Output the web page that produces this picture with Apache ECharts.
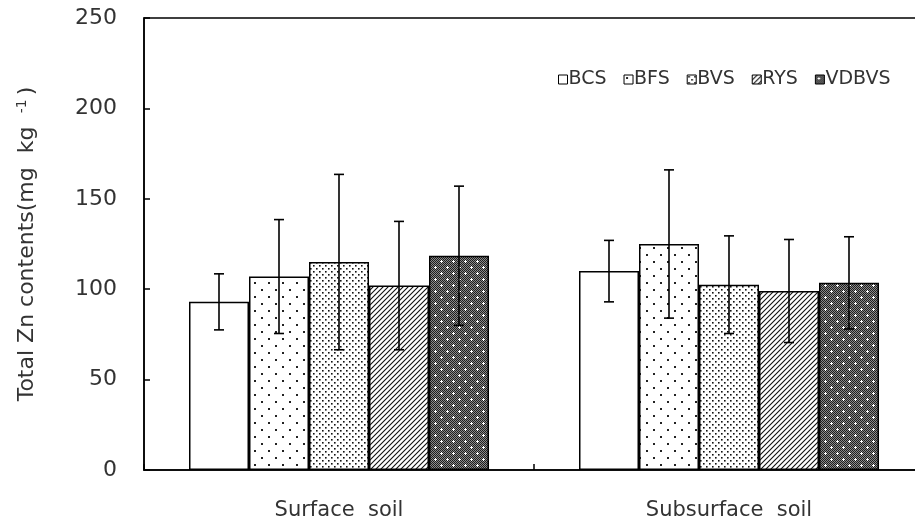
<!DOCTYPE html>
<html>
<head>
<meta charset="utf-8">
<script src="https://cdn.jsdelivr.net/npm/echarts@6/dist/echarts.min.js"></script>
<style>
  html, body { margin: 0; padding: 0; background: #fff; }
  #chart { width: 915px; height: 525px; }
</style>
</head>
<body>
<div id="chart"></div>
<script>
// Soil layers on the category axis
const categories = ['Surface  soil', 'Subsurface  soil'];
// Treatments, in legend order
const treatments = ['BCS', 'BFS', 'BVS', 'RYS', 'VDBVS'];
// Mean total Zn (mg kg-1) per treatment: [surface, subsurface]
const meanBCS = [93, 110];
const meanBFS = [107, 125];
const meanBVS = [115, 102.5];
const meanRYS = [102, 99];
const meanVDBVS = [118.5, 103.5];
// Standard deviations: [surface, subsurface]
const sdBCS = [15.5, 17];
const sdBFS = [31.5, 41];
const sdBVS = [48.5, 27];
const sdRYS = [35.5, 28.5];
const sdVDBVS = [38.5, 25.5];
// Value axis ticks
const yTicks = [0, 50, 100, 150, 200, 250];

const means = [meanBCS, meanBFS, meanBVS, meanRYS, meanVDBVS];
const sds = [sdBCS, sdBFS, sdBVS, sdRYS, sdVDBVS];

const FONT = 'DejaVu Sans';
const INK = '#333333';
const BAR_W = 60;

// ---- monochrome fill patterns ----
function makeTile(w, h, draw) {
  const c = document.createElement('canvas');
  c.width = w; c.height = h;
  const g = c.getContext('2d');
  draw(g, w, h);
  return c;
}
function dot(g, x, y, s, col) { g.fillStyle = col; g.fillRect(x, y, s, s); }

const patSparseDots = makeTile(14, 14, (g, w, h) => {
  g.fillStyle = '#fff'; g.fillRect(0, 0, w, h);
  dot(g, 2, 2, 2, '#222');
  dot(g, 9, 9, 2, '#222');
});
const patDenseDots = makeTile(6, 6, (g, w, h) => {
  g.fillStyle = '#fff'; g.fillRect(0, 0, w, h);
  dot(g, 1, 1, 1.6, '#111');
  dot(g, 4, 4, 1.6, '#111');
});
const patHatch = makeTile(5, 5, (g, w, h) => {
  g.fillStyle = '#fff'; g.fillRect(0, 0, w, h);
  g.strokeStyle = '#111'; g.lineWidth = 1.1;
  g.beginPath();
  g.moveTo(-1, h + 1); g.lineTo(w + 1, -1);
  g.moveTo(-1, 1); g.lineTo(1, -1);
  g.moveTo(w - 1, h + 1); g.lineTo(w + 1, h - 1);
  g.stroke();
});
const patDark = makeTile(12, 12, (g, w, h) => {
  for (let y = 0; y < h; y++) {
    for (let x = 0; x < w; x++) {
      g.fillStyle = ((x + y) % 2 === 0) ? '#1e1e1e' : '#8a8a8a';
      g.fillRect(x, y, 1, 1);
    }
  }
  g.fillStyle = '#fff';
  [[3, 3], [9, 9]].forEach(([cx, cy]) => {
    g.fillRect(cx - 1, cy, 3, 1);
    g.fillRect(cx, cy - 1, 1, 3);
  });
});

const fills = [
  '#ffffff',
  { image: patSparseDots, repeat: 'repeat' },
  { image: patDenseDots, repeat: 'repeat' },
  { image: patHatch, repeat: 'repeat' },
  { image: patDark, repeat: 'repeat' }
];

const barSeries = treatments.map((name, i) => ({
  name: name,
  type: 'bar',
  data: means[i],
  barWidth: BAR_W,
  barGap: '0%',
  itemStyle: { color: fills[i], borderColor: '#000', borderWidth: 1.5 },
  emphasis: { disabled: true },
  z: 2
}));

// Error bar records: [category index, mean, sd, treatment index]
const errData = [];
treatments.forEach((name, i) => {
  categories.forEach((c, k) => errData.push([k, means[i][k], sds[i][k], i]));
});

function renderErr(params, api) {
  const cat = api.value(0), m = api.value(1), sd = api.value(2), s = api.value(3);
  const mid = api.coord([cat, m]);
  const x = mid[0] + (s - (treatments.length - 1) / 2) * BAR_W;
  const yTop = api.coord([cat, m + sd])[1];
  const yBot = api.coord([cat, m - sd])[1];
  const cap = 5;
  const st = { stroke: '#000', lineWidth: 1.6 };
  return {
    type: 'group',
    children: [
      { type: 'line', shape: { x1: x, y1: yTop, x2: x, y2: yBot }, style: st },
      { type: 'line', shape: { x1: x - cap, y1: yTop, x2: x + cap, y2: yTop }, style: st },
      { type: 'line', shape: { x1: x - cap, y1: yBot, x2: x + cap, y2: yBot }, style: st }
    ]
  };
}

const chart = echarts.init(document.getElementById('chart'), null, { renderer: 'canvas' });
chart.setOption({
  animation: false,
  backgroundColor: '#ffffff',
  textStyle: { fontFamily: FONT, color: INK },
  grid: {
    left: 144, top: 18, right: -9, bottom: 55,
    containLabel: false,
    outerBoundsMode: 'none',
    show: true, borderColor: '#000', borderWidth: 1.5, backgroundColor: 'transparent'
  },
  legend: {
    data: treatments,
    left: 553, top: 65,
    icon: 'rect',
    itemWidth: 9, itemHeight: 9,
    itemGap: 17,
    selectedMode: false,
    itemStyle: { borderColor: '#000', borderWidth: 1 },
    textStyle: { fontFamily: FONT, fontSize: 19, color: INK, padding: [0, 0, 0, -4] }
  },
  xAxis: {
    type: 'category',
    data: categories,
    boundaryGap: true,
    axisLine: { lineStyle: { color: '#000', width: 1.5 } },
    axisTick: { show: true, inside: true, length: 6, lineStyle: { color: '#000', width: 1.5 } },
    axisLabel: { fontFamily: FONT, fontSize: 21, color: INK, margin: 30 }
  },
  yAxis: {
    type: 'value',
    min: yTicks[0], max: yTicks[yTicks.length - 1], interval: yTicks[1] - yTicks[0],
    splitLine: { show: false },
    axisLine: { show: true, lineStyle: { color: '#000', width: 1.5 } },
    axisTick: { show: true, inside: true, length: 6, lineStyle: { color: '#000', width: 1.5 } },
    axisLabel: { fontFamily: FONT, fontSize: 22, color: INK, margin: 27 },
    name: '{a|Total Zn contents(mg  kg}{s|   -1}{a|)}',
    nameLocation: 'middle',
    nameGap: 105,
    nameRotate: 90,
    nameTextStyle: {
      fontFamily: FONT, color: INK,
      rich: {
        a: { fontFamily: FONT, fontSize: 22, color: INK },
        s: { fontFamily: FONT, fontSize: 14, color: INK, verticalAlign: 'top', padding: [0, 4, 10, 0] }
      }
    }
  },
  series: barSeries.concat([{
    name: 'sd',
    type: 'custom',
    data: errData,
    renderItem: renderErr,
    encode: { x: 0, y: 1 },
    z: 5,
    silent: true
  }])
});
</script>
</body>
</html>
